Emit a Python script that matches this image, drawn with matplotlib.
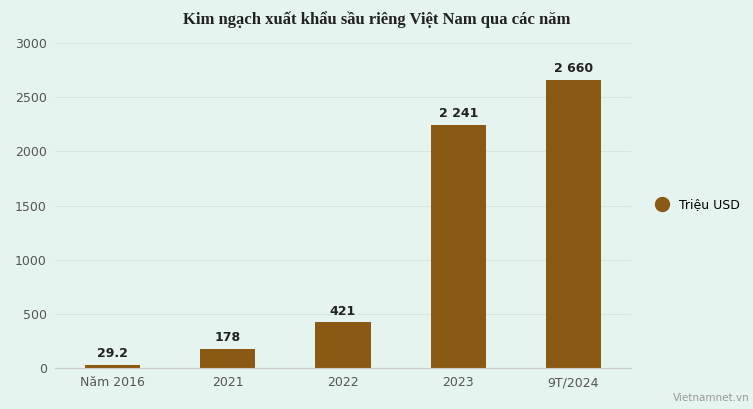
import matplotlib.pyplot as plt
from matplotlib.lines import Line2D

categories = ["Năm 2016", "2021", "2022", "2023", "9T/2024"]
values = [29.2, 178, 421, 2241, 2660]
labels = ["29.2", "178", "421", "2 241", "2 660"]
yticks = [0, 500, 1000, 1500, 2000, 2500, 3000]

bg = "#e5f4ee"
bar_color = "#8a5a14"

fig = plt.figure(figsize=(7.53, 4.09), dpi=100, facecolor=bg)
ax = fig.add_axes([0.073, 0.10, 0.765, 0.795], facecolor=bg)

x = range(len(categories))
ax.bar(x, values, width=0.48, color=bar_color, zorder=2)
for i, (v, t) in enumerate(zip(values, labels)):
    ax.text(i, v + 45, t, ha="center", va="bottom", fontsize=9, fontweight="bold",
            color="#222222", zorder=3)

ax.set_xticks(list(x))
ax.set_xticklabels(categories, fontsize=9, color="#555555")
ax.set_yticks(yticks)
ax.set_yticklabels([str(t) for t in yticks], fontsize=9, color="#555555")
ax.set_ylim(0, 3000)
ax.set_xlim(-0.5, len(categories) - 0.5)
ax.grid(axis="y", color="#d8e6e0", linewidth=0.8, zorder=0)
for s in ["top", "right", "left"]:
    ax.spines[s].set_visible(False)
ax.spines["bottom"].set_color("#cccccc")
ax.tick_params(axis="both", length=0, pad=6)

fig.text(0.5, 0.953, "Kim ngạch xuất khẩu sầu riêng Việt Nam qua các năm",
         ha="center", va="center", fontsize=12, fontweight="bold", family="Liberation Serif", color="#222222")

handle = Line2D([], [], marker="o", linestyle="none", markersize=10, color=bar_color)
fig.legend([handle], ["Triệu USD"], loc="center left", bbox_to_anchor=(0.848, 0.5), frameon=False,
           handletextpad=0.3, fontsize=9)

fig.text(0.995, 0.015, "Vietnamnet.vn", ha="right", va="bottom", fontsize=7.5, color="#999999")

fig.savefig("out.png", dpi=100, facecolor=bg)
